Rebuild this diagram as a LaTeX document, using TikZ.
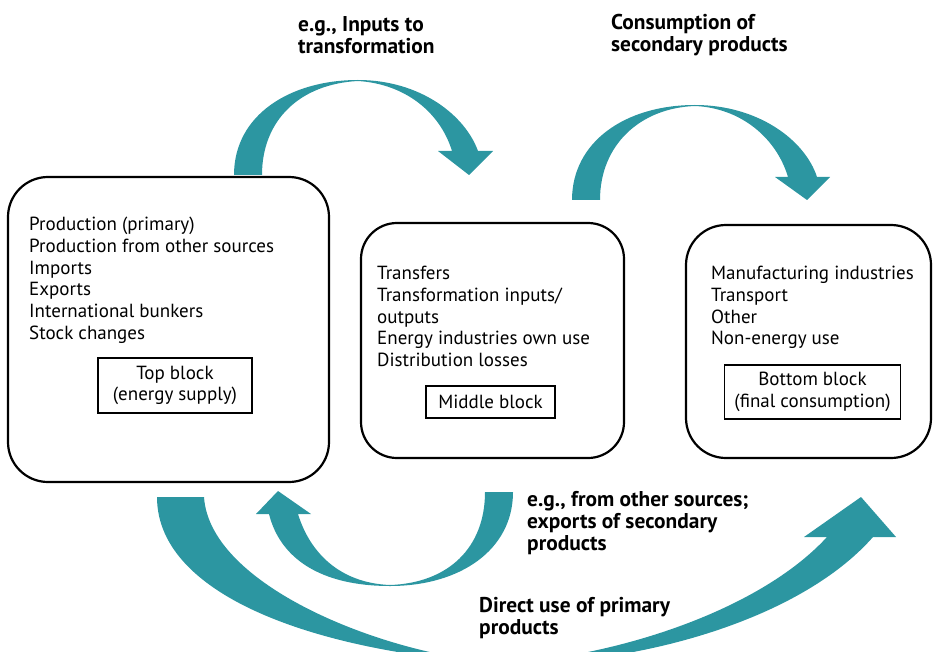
\documentclass[tikz,border=0pt]{standalone}
\usepackage{fontspec}
\setmainfont{PT Sans}
\definecolor{flowteal}{RGB}{44,150,161}
\begin{document}
\begin{tikzpicture}[x=1pt,y=-1pt,
  panel/.style={draw=black, line width=2.2pt, rounded corners=40pt, inner sep=0pt},
  blockbox/.style={draw=black, line width=1.6pt, align=center, inner sep=0pt,
    font=\fontsize{19}{21.7}\selectfont},
  itemlist/.style={align=left, anchor=north west, inner sep=0pt,
    font=\fontsize{19}{21.7}\selectfont},
  flowlabel/.style={align=left, anchor=north west, inner sep=0pt,
    font=\bfseries\fontsize{21.4}{22}\selectfont},
  tealflow/.style={fill=flowteal, draw=none}]
\useasboundingbox (0,0) rectangle (933,652);
\clip (0,0) rectangle (933,652);

% the three main panels
\node[panel, minimum width=321pt, minimum height=305pt] (supply) at (168.5,329.5) {};
\node[panel, rounded corners=36pt, minimum width=263pt, minimum height=235pt] (transform) at (492.5,340.5) {};
\node[panel, minimum width=245pt, minimum height=233pt] (consumption) at (808.5,341.5) {};

% item lists
\node[itemlist] (supplylist) at (29,217) {Production (primary)\\Production from other sources\\Imports\\Exports\\International bunkers\\Stock changes};
\node[itemlist] (transformlist) at (377,266) {Transfers\\Transformation inputs/\\outputs\\Energy industries own use\\Distribution losses};
\node[itemlist] (consumptionlist) at (711,266) {Manufacturing industries\\Transport\\Other\\Non-energy use};

% block captions
\node[blockbox, minimum width=154pt, minimum height=55pt] (topblock) at (175,385.5) {Top block\\(energy supply)};
\node[blockbox, minimum width=129pt, minimum height=32pt] (middleblock) at (490.5,402) {Middle block};
\node[blockbox, minimum width=176pt, minimum height=54pt] (bottomblock) at (812.5,392) {Bottom block\\(final consumption)};

% flows between the blocks
\fill[tealflow] (234,175) .. controls (234,115) and (290,80) .. (358,80)
  .. controls (420,80) and (465,115) .. (478,151) -- (493,151) -- (469,175) -- (438,151) -- (452,151)
  .. controls (440,112) and (405,84) .. (358,81)
  .. controls (300,84) and (262,120) .. (262,175) -- cycle;

\fill[tealflow] (572,200) .. controls (572,142) and (625,105) .. (695,105)
  .. controls (758,105) and (805,140) .. (817,177) -- (830,177) -- (807,200) -- (775,177) -- (788,177)
  .. controls (776,137) and (740,108) .. (695,106)
  .. controls (640,108) and (600,145) .. (600,200) -- cycle;

\fill[tealflow] (513,492) .. controls (513,550) and (460,586) .. (390,586)
  .. controls (320,586) and (280,558) .. (269,514) -- (256,514) -- (278,491) -- (311,514) -- (298,514)
  .. controls (310,553) and (340,583) .. (390,585)
  .. controls (448,583) and (485,548) .. (485,492) -- cycle;

\fill[tealflow] (157,497) .. controls (157,600) and (330,655) .. (510,664)
  .. controls (640,664) and (800,620) .. (873,537) -- (896,537) -- (861,497) -- (804,537) -- (827,537)
  .. controls (760,610) and (620,655) .. (510,663)
  .. controls (400,660) and (210,590) .. (204,497) -- cycle;

% flow labels
\node[flowlabel] (lblinputs) at (298,16) {e.g., Inputs to\\transformation};
\node[flowlabel] (lblsecondary) at (611,14) {Consumption of\\secondary products};
\node[flowlabel] (lblother) at (527,491) {e.g., from other sources;\\exports of secondary\\products};
\node[flowlabel] (lbldirect) at (479,597) {Direct use of primary\\products};
\end{tikzpicture}
\end{document}
